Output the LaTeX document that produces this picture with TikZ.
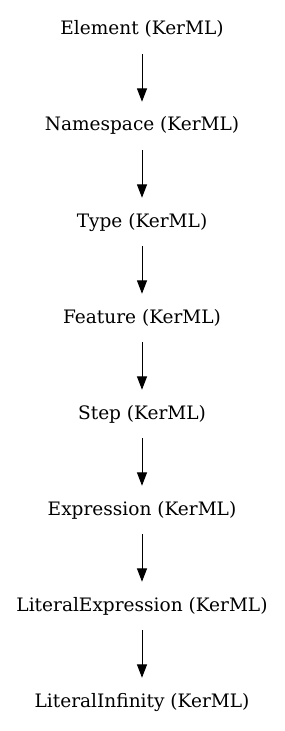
\documentclass[tikz,border=0pt]{standalone}
\usepackage{fontspec}
\setmainfont{DejaVu Serif}
\usetikzlibrary{arrows.meta,positioning}
\tikzset{
  cls/.style        = {inner xsep=2pt, inner ysep=12.25pt, text height=11pt,
                       text depth=0.5pt, font=\fontsize{13.9}{16}\selectfont},
  gen/.style        = {-{Triangle[length=10pt,width=7.5pt]}, line width=0.75pt,
                       shorten <=1.5pt, shorten >=-1.5pt},
  node distance     = 72pt,
  on grid,
}
\begin{document}
\begin{tikzpicture}
  \useasboundingbox (0,0) rectangle (213.75pt,-548.25pt);
  \node[cls] (element) at (106.5pt,-21pt) {Element (KerML)};
  \node[cls, below=of element] (namespace) {Namespace (KerML)};
  \node[cls, below=of namespace] (type) {Type (KerML)};
  \node[cls, below=of type] (feature) {Feature (KerML)};
  \node[cls, below=of feature] (step) {Step (KerML)};
  \node[cls, below=of step] (expression) {Expression (KerML)};
  \node[cls, below=of expression] (litexpr) {LiteralExpression (KerML)};
  \node[cls, below=of litexpr] (litinf) {LiteralInfinity (KerML)};
  % specialization chain
  \foreach \a/\b in {element/namespace, namespace/type, type/feature,
                     feature/step, step/expression, expression/litexpr,
                     litexpr/litinf}
    \draw[gen] (\a) -- (\b);
\end{tikzpicture}
\end{document}
